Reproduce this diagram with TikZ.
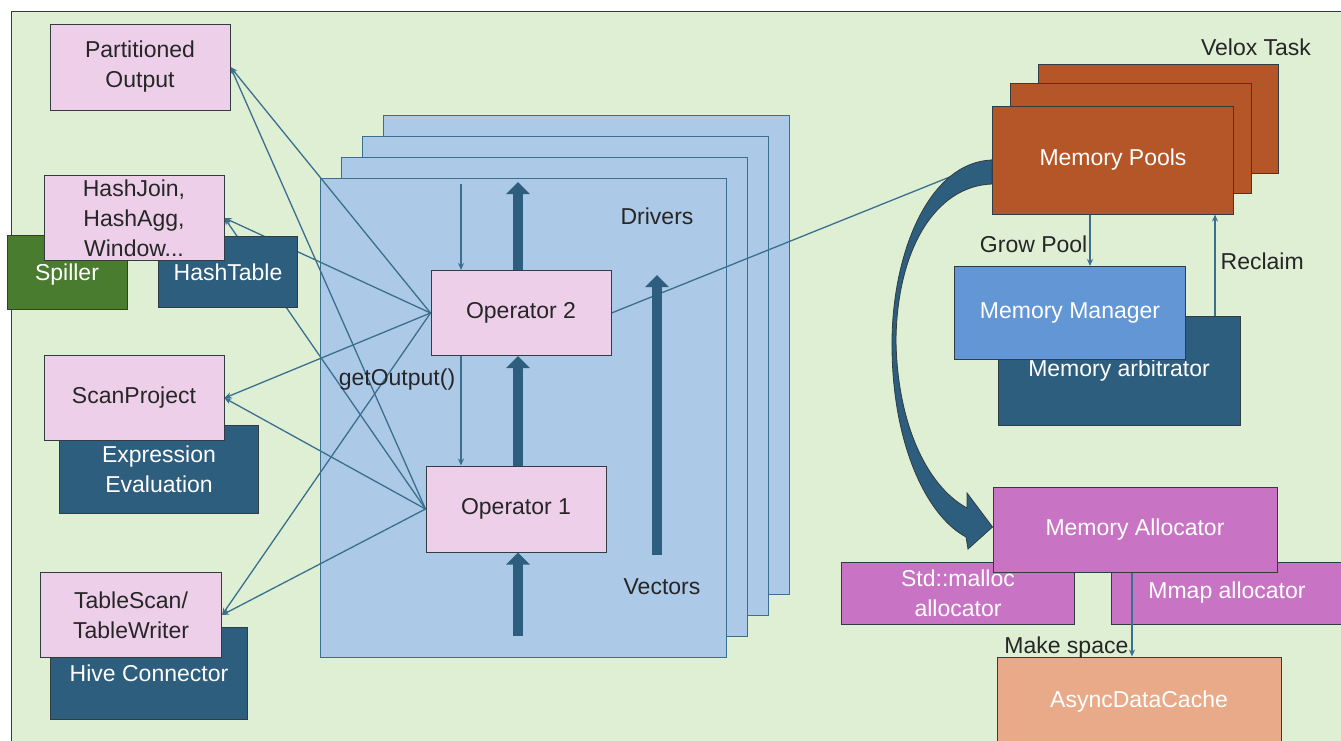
\documentclass[tikz,border=0pt]{standalone}
\usepackage{fontspec}
\setmainfont{Liberation Sans}
\usetikzlibrary{arrows.meta,positioning}
\definecolor{bggreen}{RGB}{222,239,212}
\definecolor{pinkop}{RGB}{237,207,234}
\definecolor{drvblue}{RGB}{173,201,232}
\definecolor{deepblue}{RGB}{45,94,126}
\definecolor{spillgreen}{RGB}{74,124,47}
\definecolor{poolorange}{RGB}{181,86,40}
\definecolor{mgrblue}{RGB}{99,150,213}
\definecolor{allocpink}{RGB}{201,115,196}
\definecolor{cachepeach}{RGB}{232,170,136}
\definecolor{wirecol}{RGB}{58,111,142}
\definecolor{edgecol}{RGB}{50,60,65}
\pgfdeclarelayer{back}
\pgfdeclarelayer{wires}
\pgfsetlayers{back,wires,main}

\begin{document}
\begin{tikzpicture}[x=1pt, y=-1pt, >={Stealth[length=7pt,width=6pt]},
  every node/.style={font=\fontsize{23}{30}\selectfont},
  box/.style={draw=edgecol, line width=1pt, align=center, inner sep=2pt},
  op/.style={box, fill=pinkop, text=black!85},
  dark/.style={box, fill=deepblue, text=white},
  sheet/.style={draw=edgecol, line width=1pt},
  wire/.style={->, draw=wirecol, line width=1.3pt},
  flow/.style={draw=deepblue, line width=10pt, -{Triangle[length=12pt,width=23pt]}},
  lbl/.style={text=black!85}]
\useasboundingbox (0,0) rectangle (1341,740);

\begin{pgfonlayer}{back}
\fill[bggreen, draw=edgecol, line width=1pt] (11,11) rectangle (1360,760);
% driver stack
\foreach \k in {3,2,1,0}
  \draw[draw=wirecol, fill=drvblue, line width=1pt] (320+21*\k,178-21*\k) rectangle (726+21*\k,657-21*\k);
\end{pgfonlayer}

% operators on the left
\node[dark, fill=spillgreen, minimum width=120pt, minimum height=74pt, text depth=-2pt] (spill) at (67,272) {Spiller};
\node[dark, minimum width=139pt, minimum height=71pt] (htab) at (228,272) {HashTable};
\node[op, inner sep=0pt, minimum width=180pt, minimum height=85pt] (hjoin) at (134,218) {HashJoin,\\HashAgg,\\Window...};
\node[dark, minimum width=199pt, minimum height=88pt] (expr) at (159,469) {Expression\\Evaluation};
\node[op, minimum width=180pt, minimum height=85pt] (scan) at (134,398) {ScanProject};
\node[dark, minimum width=197pt, minimum height=92pt] (hive) at (149,673) {Hive Connector};
\node[op, minimum width=181pt, minimum height=85pt] (tscan) at (131,615) {TableScan/\\TableWriter};
\node[op, minimum width=180pt, minimum height=86pt] (partout) at (140,67) {Partitioned\\Output};

% driver pipeline
\node[op, minimum width=180pt, minimum height=85pt] (op2) at (521,313) {Operator 2};
\node[op, minimum width=180pt, minimum height=86pt] (op1) at (516,509) {Operator 1};
\node[lbl] (drvlbl) at (657,216) {Drivers};
\node[lbl] (veclbl) at (662,587) {Vectors};
\node[lbl] (getout) at (397,380) {getOutput()};
\coordinate (vin) at (518,636);
\coordinate (vout) at (518,182);
\coordinate (vbot) at (657,555);
\coordinate (vtop) at (657,275);
\coordinate (gtop) at (461,184);
\draw[flow] (vin) -- (vin |- op1.south);
\draw[flow] (vin |- op1.north) -- (vin |- op2.south);
\draw[flow] (vin |- op2.north) -- (vout);
\draw[flow] (vbot) -- (vtop);
\draw[wire] (gtop) -- (gtop |- op2.north);
\draw[wire] (gtop |- op2.south) -- (gtop |- op1.north);

% memory side
\draw[sheet, fill=poolorange] (1038,64) rectangle (1278,173);
\draw[sheet, fill=poolorange] (1010,83) rectangle (1251,193);
\node[box, fill=poolorange, text=white, minimum width=241pt, minimum height=108pt] (pools) at (1113,160) {Memory Pools};
\node[lbl] (velox) at (1256,47) {Velox Task};
\node[dark, minimum width=242pt, minimum height=109pt] (arb) at (1119,371) {Memory arbitrator};
\node[box, fill=mgrblue, text=white, minimum width=231pt, minimum height=93pt] (mgr) at (1070,313) {Memory Manager};
\coordinate (grow) at (1090,0);
\coordinate (recl) at (1215,0);
\draw[wire] (grow |- pools.south) -- node[lbl, left, pos=0.58, inner sep=2pt] {Grow Pool} (grow |- mgr.north);
\draw[wire] (recl |- arb.north) -- node[lbl, right, pos=0.54, inner sep=5pt] {Reclaim} (recl |- pools.south);

\node[box, fill=allocpink, text=white, minimum width=233pt, minimum height=62pt] (malloc) at (958,593) {Std::malloc\\allocator};
\node[box, fill=allocpink, text=white, minimum width=232pt, minimum height=62pt] (mmap) at (1227,593) {Mmap allocator};
\node[box, fill=allocpink, text=white, minimum width=284pt, minimum height=85pt] (alloc) at (1135,530) {Memory Allocator};
\node[box, fill=cachepeach, text=white, minimum width=284pt, minimum height=90pt] (cache) at (1139,702) {AsyncDataCache};
\coordinate (mk) at (1132,0);
\draw[wire] (mk |- alloc.south) -- node[lbl, left, pos=0.89, inner sep=3pt] {Make space} (mk |- cache.north);

\begin{pgfonlayer}{wires}
\foreach \t in {partout,hjoin,scan,tscan}{
  \draw[wire] (op2.west) -- (\t.east);
  \draw[wire] (op1.west) -- (\t.east);
}
\draw[draw=wirecol, line width=1.3pt] (op2.east) -- (pools.west);
% curved arrow, pools to allocator
\fill[deepblue, draw=edgecol, line width=0.8pt] (pools.west)
  .. controls (930,162) and (893,250) .. (892,340)
  .. controls (891,440) and (925,515) .. (966,537)
  -- (968,549) -- ([yshift=3pt]alloc.west) -- (967,493) -- (967,508)
  .. controls (925,485) and (897,420) .. (896,340)
  .. controls (897,250) and (935,186) .. ([yshift=-24pt]pools.west) -- cycle;
\end{pgfonlayer}
\end{tikzpicture}
\end{document}
